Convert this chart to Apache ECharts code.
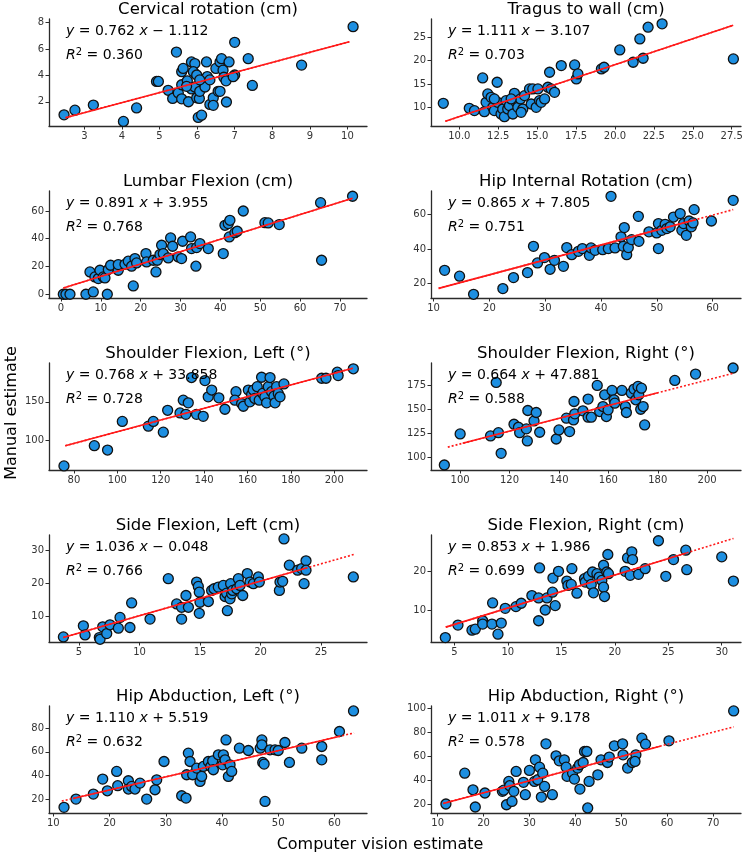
<!DOCTYPE html>
<html>
<head>
<meta charset="utf-8">
<script src="https://cdn.jsdelivr.net/npm/echarts@6/dist/echarts.min.js"></script>
<style>html,body{margin:0;padding:0;background:#fff}#c{width:750px;height:856px}</style>
</head>
<body>
<div id="c"></div>
<script>
const panelTitles = ['Cervical rotation (cm)', 'Tragus to wall (cm)', 'Lumbar Flexion (cm)', 'Hip Internal Rotation (cm)',
  'Shoulder Flexion, Left (°)', 'Shoulder Flexion, Right (°)', 'Side Flexion, Left (cm)', 'Side Flexion, Right (cm)',
  'Hip Abduction, Left (°)', 'Hip Abduction, Right (°)'];
const slopes = [0.762, 1.111, 0.891, 0.865, 0.768, 0.664, 1.036, 0.853, 1.110, 1.011];
const intercepts = [-1.112, -3.107, 3.955, 7.805, 33.858, 47.881, -0.048, 1.986, 5.519, 9.178];
const r2Values = ['0.360', '0.703', '0.768', '0.751', '0.728', '0.588', '0.766', '0.699', '0.632', '0.578'];
const fitRange = [[2.5,10.05],[9.1,27.6],[0.6,73.2],[10.9,63.7],[76,208.5],[95,210.5],[3.7,27.7],[4.2,31.1],[11.5,63.5],[11.2,74.5]];
const solidRange = [[2.5,10.05],[9.1,27.6],[0.6,73.2],[10.9,57],[76,208.5],[101,180],[3.7,23.8],[4.2,26.7],[13.5,61],[11.2,58.5]];
const xRange = [[2.06,10.52],[8.18,28.1],[-3.0,76.8],[9.53,65.1],[68.5,215.1],[88.2,213.7],[2.52,28.8],[2.82,31.8],[9.23,65.8],[8.55,76.1]];
const yRange = [[0.16,8.28],[6.0,28.9],[-2.7,74.4],[11.65,73.7],[60.5,201],[87.2,198.3],[2.42,34.5],[1.72,29.4],[8.2,98.8],[12.5,101.9]];
const xTicks = [[3,4,5,6,7,8,9,10],[10,12.5,15,17.5,20,22.5,25,27.5],[0,10,20,30,40,50,60,70],[10,20,30,40,50,60],
  [80,100,120,140,160,180,200],[100,120,140,160,180,200],[5,10,15,20,25],[5,10,15,20,25,30],[10,20,30,40,50,60],[10,20,30,40,50,60,70]];
const yTicks = [[2,4,6,8],[10,15,20,25],[0,20,40,60],[20,40,60],[100,150],[100,125,150,175],[10,20,30],[10,20],[20,40,60,80],[20,40,60,80,100]];
const xDecimals = [0,1,0,0,0,0,0,0,0,0];

const cervPts = [[2.46,1.01],[2.75,1.36],[3.24,1.75],[4.04,0.51],[4.39,1.53],[4.92,3.54],[4.97,3.54],[5.45,5.77],[5.23,2.87],[5.35,2.25],[5.5,2.67],[5.59,2.22],[5.59,4.28],[5.63,4.53],[5.59,3.29],[5.74,3.59],[5.77,2.0],[5.85,5.02],[5.94,4.9],[5.9,4.28],[5.99,4.03],[5.85,2.97],[5.94,3.12],[5.99,2.3],[6.06,2.25],[6.07,2.79],[6.03,0.81],[6.12,0.98],[6.21,3.12],[6.25,5.02],[6.27,3.91],[6.34,1.8],[6.43,2.3],[6.43,1.73],[6.5,4.53],[6.56,2.79],[6.61,5.02],[6.65,5.27],[6.61,2.79],[6.69,4.4],[6.71,3.86],[6.77,3.59],[6.78,1.98],[6.85,5.02],[7.0,6.51],[7.0,4.03],[7.36,5.27],[7.47,3.24],[8.78,4.78],[10.15,7.7],[6.07,3.66],[5.72,3.17],[6.34,3.66],[6.96,3.9]];
const tragPts = [[8.97,10.86],[10.64,9.79],[10.97,9.29],[11.5,16.29],[11.61,9.07],[11.72,11.07],[11.83,12.86],[12.04,12.14],[12.15,10.0],[12.25,9.29],[12.43,15.36],[12.47,11.07],[12.68,8.57],[12.79,9.64],[12.9,8.0],[13.0,11.43],[13.11,9.64],[13.22,10.36],[13.44,8.57],[13.54,13.0],[13.65,11.07],[13.76,10.0],[13.93,11.79],[14.08,9.64],[14.19,12.5],[14.51,13.93],[14.62,10.71],[14.72,13.93],[14.94,10.0],[15.05,13.93],[15.15,11.43],[15.26,11.07],[15.48,11.79],[15.69,14.29],[15.8,17.5],[15.9,13.93],[16.12,13.21],[16.55,18.93],[17.41,19.07],[17.52,16.07],[17.62,17.14],[19.13,18.21],[19.3,18.57],[20.31,22.29],[21.17,19.64],[21.6,24.64],[21.81,20.5],[22.13,27.14],[23.03,27.86],[27.61,20.36],[13.97,8.93],[12.25,11.79],[13.33,11.79]];
const lumbPts = [[0.59,0],[1.25,0],[2.26,0],[6.27,0],[7.28,16.1],[8.11,1.68],[8.53,12.5],[9.37,11.3],[9.79,17.3],[10.62,12.5],[11.04,11.76],[11.63,0],[11.88,17.76],[12.46,20.9],[14.38,17.3],[14.38,21.4],[16.06,21.6],[16.89,23.8],[17.73,20.2],[18.15,6.0],[18.57,25.7],[18.98,22.6],[21.33,29.3],[21.5,23.3],[23.17,24.5],[23.84,16.1],[24.17,24.5],[24.84,28.6],[25.26,35.3],[25.68,29.3],[26.93,26.2],[27.52,40.6],[28.02,34.6],[29.44,26.9],[30.27,25.7],[30.53,38.2],[32.53,41.3],[32.78,32.9],[33.87,20.2],[34.04,33.6],[34.87,36.5],[36.97,32.9],[40.73,29.3],[41.15,49.7],[41.98,50.9],[42.4,53.3],[42.24,41.3],[43.66,44.4],[44.24,45.4],[45.75,60.0],[51.18,51.6],[52.01,51.4],[54.78,50.2],[65.15,66.0],[65.4,24.5],[73.18,70.6]];
const hirPts = [[11.97,27.7],[14.65,24.3],[17.16,13.8],[22.41,17.1],[24.32,23.5],[26.83,26.4],[27.9,41.6],[28.62,32.0],[29.87,35.1],[30.88,28.3],[31.66,33.5],[33.27,30.0],[33.87,40.9],[34.76,36.8],[35.95,38.7],[36.67,40.3],[37.92,36.4],[38.22,40.7],[38.94,39.3],[40.31,39.7],[41.32,40.3],[41.8,70.6],[42.52,40.7],[43.59,47.1],[44.0,41.6],[44.18,52.5],[44.61,36.8],[44.9,40.9],[45.5,45.5],[46.7,59.0],[46.8,44.5],[48.6,50.0],[49.98,49.4],[50.3,54.8],[50.3,40.3],[50.9,50.9],[51.5,54.4],[51.8,51.9],[52.4,52.9],[53.0,58.6],[54.2,60.6],[54.5,50.9],[54.8,54.8],[55.3,48.0],[55.8,56.3],[56.2,52.9],[56.5,55.2],[56.7,62.9],[59.8,56.3],[63.7,68.3]];
const sflPts = [[75.4,65.9],[89.4,92.5],[95.5,86.7],[102.3,124.3],[114.3,118.1],[116.6,124.3],[121.2,110.2],[123.2,138.9],[128.9,135.4],[130.4,152.2],[131.6,133.6],[132.7,148.7],[134.2,181.9],[136.5,133.6],[139.6,131.0],[140.4,177.9],[141.9,156.6],[143.5,165.5],[146.8,155.3],[149.6,140.3],[154.7,163.3],[154.2,152.2],[157.3,147.8],[158.1,144.2],[160.4,165.5],[161.1,150.0],[161.9,159.7],[162.7,165.5],[163.4,154.4],[164.5,169.9],[165.4,152.2],[166.5,182.3],[167.0,161.1],[168.0,156.6],[168.8,148.7],[169.6,169.9],[170.4,181.9],[171.1,163.3],[172.2,157.5],[172.7,148.7],[173.4,169.9],[174.2,161.1],[175.0,156.6],[176.8,173.5],[194.2,181.0],[196.2,181.0],[201.4,188.9],[201.8,184.5],[208.8,193.4]];
const sfrPts = [[93.6,92.4],[100.0,124.7],[112.3,122.6],[114.6,178.1],[115.5,126.0],[116.6,104.5],[121.8,134.7],[123.6,131.6],[124.1,126.0],[126.8,129.9],[127.2,117.4],[127.4,149.0],[129.9,138.2],[130.8,146.9],[132.2,126.4],[138.9,119.4],[140.0,128.8],[143.0,141.0],[144.3,127.1],[145.9,139.2],[146.1,158.3],[146.4,145.5],[149.7,148.6],[151.8,160.8],[151.8,142.0],[153.1,142.0],[155.5,175.0],[156.5,147.9],[157.8,153.1],[158.5,165.3],[159.2,142.7],[159.9,149.7],[161.5,169.8],[162.3,160.1],[162.6,156.6],[165.5,169.8],[166.9,153.1],[167.3,146.9],[169.3,167.0],[170.4,171.2],[171.1,160.1],[172.0,174.0],[172.3,165.3],[173.1,150.3],[173.4,172.2],[174.1,153.1],[174.7,134.0],[186.9,180.2],[195.3,186.8],[210.5,193.1]];
const sdlPts = [[3.71,3.94],[5.36,7.27],[5.5,4.55],[6.68,3.74],[6.74,3.23],[6.96,6.97],[7.29,4.95],[7.56,7.58],[8.25,6.57],[8.39,9.8],[9.21,6.77],[9.35,14.14],[10.87,9.29],[12.38,21.41],[13.07,13.84],[13.48,12.83],[13.48,9.29],[13.84,16.36],[14.04,12.83],[14.72,20.4],[14.86,19.09],[14.94,17.37],[14.94,11.01],[15.0,14.34],[15.69,14.55],[15.96,17.88],[16.16,18.38],[16.51,18.89],[16.93,19.39],[17.07,16.06],[17.2,17.07],[17.26,11.82],[17.48,15.35],[17.53,19.9],[17.62,16.87],[17.7,17.88],[18.03,18.38],[18.17,21.41],[18.3,19.39],[18.53,16.36],[18.91,22.93],[19.13,20.4],[19.41,19.9],[19.82,21.92],[19.9,20.4],[21.56,17.88],[21.61,20.4],[21.83,20.61],[21.94,33.33],[22.38,25.45],[23.07,23.94],[23.4,24.44],[23.6,19.9],[23.76,26.77],[23.76,23.94],[27.67,21.92]];
const sdrPts = [[4.16,2.87],[5.34,6.09],[6.65,4.78],[6.96,5.04],[7.65,7.22],[7.65,6.35],[8.52,6.35],[8.58,11.83],[9.08,3.74],[9.39,6.61],[9.76,10.43],[10.76,10.87],[11.26,11.74],[12.25,13.74],[12.97,20.87],[12.88,13.13],[12.88,7.22],[13.5,10.0],[13.66,13.13],[14.18,14.61],[14.22,18.26],[14.43,11.13],[14.74,20.0],[15.52,17.48],[15.62,16.35],[15.93,16.61],[15.99,20.7],[16.46,14.35],[17.17,18.09],[17.24,17.22],[17.55,18.7],[17.8,16.61],[17.92,19.83],[18.01,14.43],[18.33,19.39],[18.54,18.52],[18.79,17.65],[18.95,21.57],[18.95,15.91],[19.04,13.48],[19.26,19.83],[19.35,24.35],[19.41,19.39],[20.97,20.0],[21.19,23.48],[21.44,18.96],[21.59,25.04],[21.66,23.04],[22.22,19.22],[22.84,20.7],[24.08,27.91],[24.77,18.7],[25.49,23.04],[26.64,25.48],[26.73,20.43],[30.0,23.74],[31.09,17.48]];
const halPts = [[11.9,13.0],[14.03,20.0],[17.12,24.2],[18.78,36.9],[19.61,27.0],[21.27,43.4],[21.45,31.3],[23.35,35.5],[23.35,28.5],[23.94,30.7],[24.53,28.5],[25.42,33.5],[26.61,20.0],[28.09,27.9],[28.39,36.3],[29.69,51.8],[32.83,22.8],[33.61,20.8],[33.72,40.6],[34.02,58.9],[34.32,51.8],[34.79,40.6],[35.5,46.2],[36.1,34.9],[36.39,39.2],[36.69,47.6],[37.58,51.8],[38.0,47.6],[38.35,52.4],[38.47,44.8],[39.36,57.5],[40.13,49.0],[40.25,57.5],[40.55,53.2],[40.72,70.1],[41.14,39.2],[41.44,49.0],[41.73,43.4],[43.1,63.1],[44.7,61.1],[46.8,63.1],[47.1,70.1],[47.1,65.9],[47.25,51.0],[47.5,49.6],[47.66,18.0],[48.55,61.7],[49.44,61.7],[50.0,61.1],[51.2,67.9],[52.0,51.0],[54.2,63.1],[57.75,64.5],[57.75,53.2],[60.9,77.2],[63.4,94.6]];
const harPts = [[11.8,20.0],[15.9,45.8],[17.7,31.9],[18.2,17.5],[20.3,29.2],[24.1,30.6],[24.4,31.6],[25.0,19.4],[25.5,38.9],[25.7,35.3],[26.2,22.2],[26.6,30.6],[27.1,47.2],[28.7,38.1],[29.1,27.8],[30.0,48.1],[31.1,38.9],[31.3,56.9],[31.8,40.3],[32.2,50.8],[32.6,25.8],[32.9,45.8],[33.3,34.7],[33.6,70.3],[35.0,27.8],[35.8,60.3],[36.5,56.1],[37.6,56.9],[38.0,50.8],[38.2,43.1],[39.4,45.8],[39.8,40.8],[40.5,50.0],[40.9,52.8],[41.0,32.5],[41.7,54.7],[42.0,63.9],[42.5,63.9],[42.7,16.7],[43.0,38.9],[44.9,44.4],[45.6,56.9],[47.0,54.7],[47.4,59.2],[48.5,68.6],[50.3,70.3],[50.4,61.1],[51.4,50.0],[52.4,54.7],[53.2,61.1],[53.0,55.6],[54.5,75.0],[55.3,70.0],[60.4,72.8],[74.5,97.8]];
const allPts = [cervPts, tragPts, lumbPts, hirPts, sflPts, sfrPts, sdlPts, sdrPts, halPts, harPts];

// layout
const colLeft = [49, 431], colWidth = [318, 310];
const rowTop = [19, 191, 363, 535, 706], rowHeight = 107;
const FONT = '"DejaVu Sans", "Noto Sans", sans-serif';

const grids = [], xAxes = [], yAxes = [], series = [], graphics = [];
const fit = (i, x) => slopes[i] * x + intercepts[i];
const axisCommon = {
  type: 'value',
  splitLine: { show: false },
  axisLine: { show: true, onZero: false, lineStyle: { color: '#2b2b2b', width: 1.3 } },
};
for (let i = 0; i < 10; i++) {
  const c = i % 2, r = Math.floor(i / 2);
  grids.push({ left: colLeft[c], top: rowTop[r], width: colWidth[c], height: rowHeight });
  xAxes.push(Object.assign({}, axisCommon, {
    gridIndex: i, min: xRange[i][0], max: xRange[i][1],
    axisTick: { show: true, length: 3.5, customValues: xTicks[i], lineStyle: { color: '#2b2b2b', width: 1 } },
    axisLabel: { customValues: xTicks[i], fontSize: 10, color: '#333', fontFamily: FONT, margin: 5,
      formatter: v => Number(v).toFixed(xDecimals[i]) }
  }));
  yAxes.push(Object.assign({}, axisCommon, {
    gridIndex: i, min: yRange[i][0], max: yRange[i][1],
    axisTick: { show: true, length: 3.5, customValues: yTicks[i], lineStyle: { color: '#2b2b2b', width: 1 } },
    axisLabel: { customValues: yTicks[i], fontSize: 10, color: '#333', fontFamily: FONT, margin: 5 }
  }));
  series.push({
    type: 'scatter', xAxisIndex: i, yAxisIndex: i, data: allPts[i], symbol: 'circle', symbolSize: 10,
    itemStyle: { color: '#1d8fe1', borderColor: '#111', borderWidth: 1.3, opacity: 1 }, z: 2, silent: true
  });
  const fr = fitRange[i], sr = solidRange[i];
  series.push({
    type: 'line', xAxisIndex: i, yAxisIndex: i, data: [[fr[0], fit(i, fr[0])], [fr[1], fit(i, fr[1])]],
    symbol: 'none', lineStyle: { color: '#ff1a1a', width: 1.6, type: [2, 2] }, z: 3, silent: true
  });
  series.push({
    type: 'line', xAxisIndex: i, yAxisIndex: i, data: [[sr[0], fit(i, sr[0])], [sr[1], fit(i, sr[1])]],
    symbol: 'none', lineStyle: { color: '#ff1a1a', width: 1.6 }, z: 4, silent: true
  });
  // subplot title
  graphics.push({
    type: 'text', x: colLeft[c] + colWidth[c] / 2, y: rowTop[r] - 9, z: 10,
    style: { text: panelTitles[i], font: '16.5px ' + FONT, fill: '#000', align: 'center', verticalAlign: 'middle' }
  });
  const b = intercepts[i];
  const eq = '{i|y} = ' + slopes[i].toFixed(3) + ' {i|x} ' + (b < 0 ? '\u2212 ' : '+ ') + Math.abs(b).toFixed(3);
  graphics.push({
    type: 'text', x: colLeft[c] + 17, y: rowTop[r] + 12, z: 10,
    style: { text: eq, font: '14px ' + FONT, fill: '#000', align: 'left', verticalAlign: 'middle',
      rich: { i: { fontStyle: 'italic', fontSize: 14, fontFamily: FONT, fill: '#000' } } }
  });
  graphics.push({
    type: 'text', x: colLeft[c] + 17, y: rowTop[r] + 36, z: 10,
    style: { text: '{i|R}{s|2} = ' + r2Values[i], font: '14px ' + FONT, fill: '#000', align: 'left', verticalAlign: 'middle',
      rich: { i: { fontStyle: 'italic', fontSize: 14, fontFamily: FONT, fill: '#000' },
              s: { fontSize: 10, fontFamily: FONT, fill: '#000', verticalAlign: 'top', padding: [0, 0, 6, 0] } } }
  });
}
graphics.push({
  type: 'text', x: 12, y: 413, rotation: Math.PI / 2, z: 10,
  style: { text: 'Manual estimate', font: '16px ' + FONT, fill: '#000', align: 'center', verticalAlign: 'middle' }
});
graphics.push({
  type: 'text', x: 380, y: 845, z: 10,
  style: { text: 'Computer vision estimate', font: '16px ' + FONT, fill: '#000', align: 'center', verticalAlign: 'middle' }
});

const chart = echarts.init(document.getElementById('c'), null, { renderer: 'canvas' });
chart.setOption({
  animation: false,
  backgroundColor: '#fff',
  grid: grids, xAxis: xAxes, yAxis: yAxes, series: series, graphic: graphics
});
</script>
</body>
</html>
